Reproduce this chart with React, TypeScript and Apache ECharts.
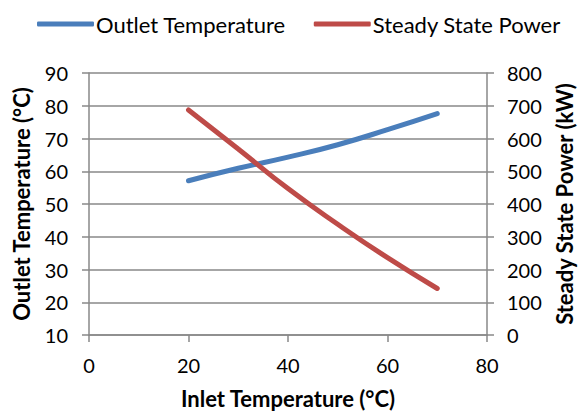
import React, { useEffect, useRef } from "react";
import * as echarts from "echarts";

const inletTemps = [20, 30, 40, 50, 60, 70];
const outletTemps = [57.1, 60.9, 64.3, 68.1, 72.7, 77.6];
const steadyPower = [687, 568, 447, 338, 236, 142];

const xTicks = { min: 0, max: 80, interval: 20 };
const leftTicks = { min: 10, max: 90, interval: 10 };
const rightTicks = { min: 0, max: 800, interval: 100 };

const FONT = "Lato, 'Open Sans', sans-serif";

export default function App() {
  const ref = useRef<HTMLDivElement>(null);
  useEffect(() => {
    if (!ref.current) return;
    const chart = echarts.init(ref.current, undefined, { renderer: "svg" });
    const gray = "#898989";
    const axisLine = { show: true, lineStyle: { color: gray, width: 1.5 } };
    const axisTick = { show: true, length: 7, lineStyle: { color: gray, width: 1.5 } };
    const label = { fontSize: 20, color: "#000", fontFamily: FONT };
    const title = { fontSize: 22, fontWeight: "bold", color: "#000", fontFamily: FONT };
    chart.setOption({
      animation: false,
      backgroundColor: "#ffffff",
      textStyle: { fontFamily: FONT },
      legend: {
        top: 8,
        left: 32,
        itemWidth: 57,
        itemHeight: 5,
        itemGap: 28,
        icon: "roundRect",
        textStyle: { fontSize: 22, color: "#000", fontFamily: FONT, padding: [0, 0, 0, -3] },
        data: ["Outlet Temperature", "Steady State Power"],
      },
      grid: {
        left: 89,
        right: 92,
        top: 73,
        bottom: 80,
        containLabel: false,
        outerBoundsMode: "none",
      },
      xAxis: {
        type: "value",
        ...xTicks,
        name: "Inlet Temperature (°C)",
        nameLocation: "middle",
        nameGap: 52,
        nameTextStyle: title,
        axisLine,
        axisTick,
        splitLine: { show: false },
        axisLabel: { ...label, margin: 20 },
      },
      yAxis: [
        {
          type: "value",
          ...leftTicks,
          name: "Outlet Temperature (°C)",
          nameLocation: "middle",
          nameGap: 57,
          nameRotate: 90,
          nameTextStyle: title,
          axisLine,
          axisTick,
          splitLine: { show: true, lineStyle: { color: gray, width: 1.5 } },
          axisLabel: { ...label, margin: 21 },
        },
        {
          type: "value",
          ...rightTicks,
          position: "right",
          name: "Steady State Power (kW)",
          nameLocation: "middle",
          nameGap: 66,
          nameRotate: 90,
          nameTextStyle: title,
          axisLine,
          axisTick,
          splitLine: { show: false },
          axisLabel: { ...label, margin: 20 },
        },
      ],
      series: [
        {
          name: "Outlet Temperature",
          type: "line",
          yAxisIndex: 0,
          smooth: true,
          showSymbol: false,
          symbol: "none",
          color: "#4a7ebb",
          lineStyle: { width: 5, color: "#4a7ebb", cap: "round" },
          data: inletTemps.map((x, i) => [x, outletTemps[i]]),
        },
        {
          name: "Steady State Power",
          type: "line",
          yAxisIndex: 1,
          smooth: true,
          showSymbol: false,
          symbol: "none",
          color: "#be4b48",
          lineStyle: { width: 5, color: "#be4b48", cap: "round" },
          data: inletTemps.map((x, i) => [x, steadyPower[i]]),
        },
      ],
    });
    return () => chart.dispose();
  }, []);
  return (
    <div
      ref={ref}
      style={{ position: "fixed", left: 0, top: 0, width: 579, height: 415 }}
    />
  );
}
